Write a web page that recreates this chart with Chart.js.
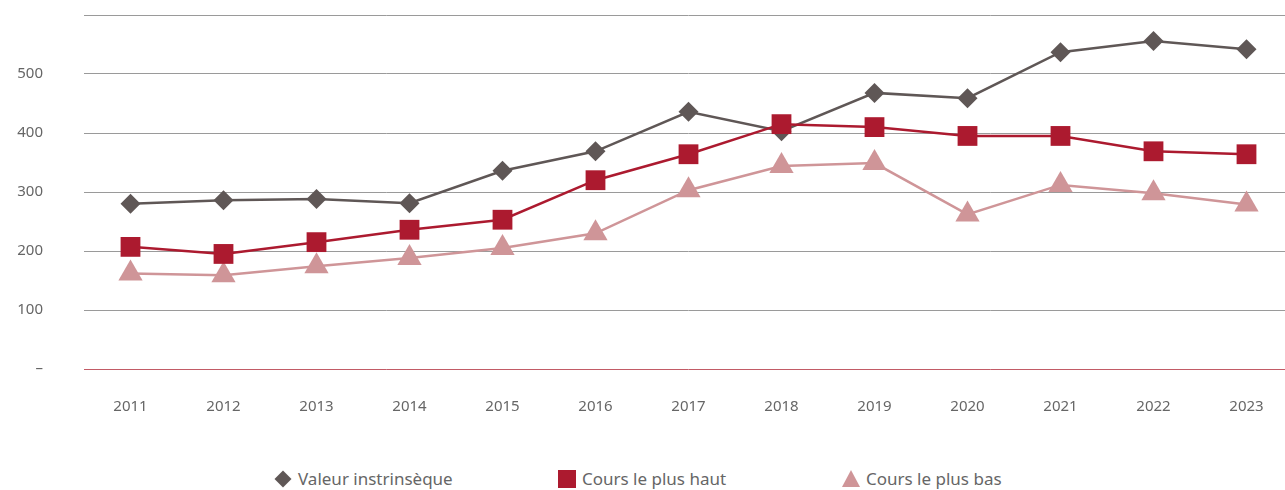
<!DOCTYPE html>
<html lang="fr">
<head>
<meta charset="UTF-8">
<title>Valeur intrinsèque et cours</title>
<script src="https://cdn.jsdelivr.net/npm/chart.js@4.4.0/dist/chart.umd.min.js"></script>
<style>
  html, body { margin: 0; background: #fff; font-family: "Noto Sans", sans-serif; overflow: hidden; }
  #wrap { position: relative; width: 1293px; height: 440px; }
  #legend { position: relative; width: 1285px; height: 50px; }
  .item { position: absolute; top: 29px; height: 20px; font-size: 17px; color: #666; line-height: 20px; }
  .item span { position: absolute; left: 24px; top: 0; white-space: nowrap; }
  .mk { position: absolute; }
  .diamond { left: 3px; top: 4px; width: 12px; height: 12px; background: #5f5756; transform: rotate(45deg); }
  .square { left: 0; top: 1px; width: 18px; height: 18px; background: #ac1a2f; }
  .tri { left: 0; top: 1px; width: 0; height: 0; border-left: 9px solid transparent; border-right: 9px solid transparent; border-bottom: 17px solid #cf9598; }
</style>
</head>
<body>
<div id="wrap"><canvas id="chart"></canvas></div>
<div id="legend">
  <div class="item" style="left:274px"><div class="mk diamond"></div><span>Valeur instrinsèque</span></div>
  <div class="item" style="left:558px"><div class="mk square"></div><span>Cours le plus haut</span></div>
  <div class="item" style="left:842px"><div class="mk tri"></div><span>Cours le plus bas</span></div>
</div>
<script>
  // data
  const years = ['2011','2012','2013','2014','2015','2016','2017','2018','2019','2020','2021','2022','2023'];
  const valeur = [280, 286, 288, 281, 336, 369, 436, 403, 468, 459, 537, 556, 542];
  const haut   = [207, 195, 215, 236, 253, 320, 364, 415, 410, 395, 395, 369, 364];
  const bas    = [162, 159, 174, 188, 205, 230, 303, 344, 349, 262, 312, 298, 279];
  const yTicks = [0, 100, 200, 300, 400, 500, 600];

  const tickFont = { family: 'Noto Sans', size: 15 };

  new Chart(document.getElementById('chart'), {
    type: 'line',
    data: {
      labels: years,
      datasets: [
        {
          label: 'Valeur instrinsèque',
          data: valeur,
          borderColor: '#5f5756',
          backgroundColor: '#5f5756',
          borderWidth: 2.5,
          pointStyle: 'rectRot',
          pointRadius: 10,
          pointBorderWidth: 0,
          order: 1
        },
        {
          label: 'Cours le plus haut',
          data: haut,
          borderColor: '#ac1a2f',
          backgroundColor: '#ac1a2f',
          borderWidth: 2.5,
          pointStyle: 'rect',
          pointRadius: 14,
          pointBorderWidth: 0,
          order: 0
        },
        {
          label: 'Cours le plus bas',
          data: bas,
          borderColor: '#cf9598',
          backgroundColor: '#cf9598',
          borderWidth: 2.5,
          pointStyle: 'triangle',
          pointRadius: 14,
          pointBorderWidth: 0,
          order: 2
        }
      ]
    },
    options: {
      responsive: true,
      maintainAspectRatio: false,
      animation: false,
      layout: { autoPadding: false, padding: { top: 15, right: 0, bottom: 0, left: 0 } },
      plugins: {
        legend: { display: false },
        tooltip: { enabled: false }
      },
      scales: {
        x: {
          offset: true,
          grid: { display: false },
          border: { display: false },
          ticks: { color: '#666', font: tickFont, padding: 21, maxRotation: 0 },
          afterFit: s => { s.height = 71; }
        },
        y: {
          min: 0,
          max: 600,
          afterBuildTicks: s => { s.ticks = yTicks.map(v => ({ value: v })); },
          border: { display: false },
          grid: {
            drawTicks: false,
            lineWidth: 1,
            color: c => c.tick && c.tick.value === 0 ? '#c25b66' : '#9a9a9a'
          },
          ticks: {
            color: '#666',
            font: tickFont,
            padding: 41,
            callback: v => v === 0 ? '–' : (v === 600 ? '' : v)
          },
          afterFit: s => { s.width = 84; s.paddingTop = 0; s.paddingBottom = 0; }
        }
      }
    }
  });
</script>
</body>
</html>
